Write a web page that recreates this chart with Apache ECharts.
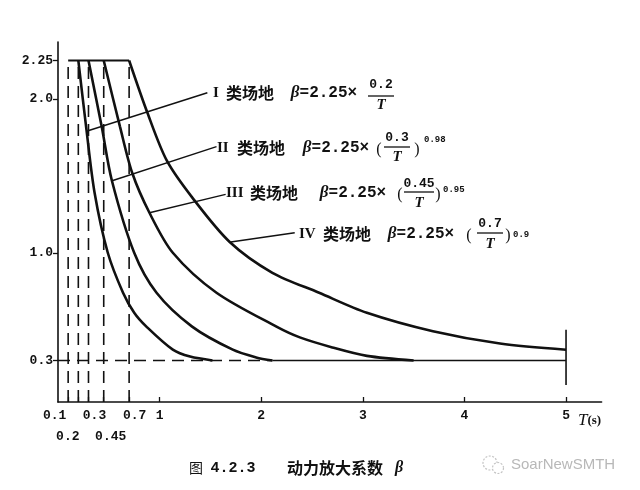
<!DOCTYPE html>
<html><head><meta charset="utf-8">
<script src="https://cdn.jsdelivr.net/npm/echarts@6/dist/echarts.min.js"></script>
<style>html,body{margin:0;padding:0;background:#fff}#c{width:640px;height:490px}</style>
</head><body><div id="c"></div>
<script>
// ---- data ----
const xTickValues = [0.1, 0.2, 0.3, 0.45, 0.7, 1, 2, 3, 4, 5];
const xTickLabels = ['0.1', '0.2', '0.3', '0.45', '0.7', '1', '2', '3', '4', '5'];
const yTickValues = [0.3, 1.0, 2.0, 2.25];
const yTickLabels = ['0.3', '1.0', '2.0', '2.25'];
const dashedT = [0.1, 0.2, 0.3, 0.45, 0.7];
const betaMax = 2.25;
const betaMin = 0.3;
const plateau = [[0.1, 2.25], [0.7, 2.25]];
const curveI = [[0.2, 2.25], [0.28, 1.80], [0.36, 1.39], [0.49, 1.00], [0.64, 0.74], [0.75, 0.61], [0.87, 0.52], [1.13, 0.37], [1.30, 0.325], [1.52, 0.30]];
const curveII = [[0.3, 2.25], [0.43, 1.82], [0.53, 1.47], [0.75, 1.00], [0.97, 0.74], [1.32, 0.52], [1.72, 0.37], [1.95, 0.32], [2.11, 0.30]];
const curveIII = [[0.45, 2.25], [0.61, 1.82], [0.73, 1.52], [0.90, 1.26], [1.13, 1.00], [1.56, 0.74], [2.15, 0.52], [2.38, 0.45], [2.70, 0.385], [3.04, 0.33], [3.50, 0.30]];
const curveIV = [[0.7, 2.25], [0.88, 1.91], [1.07, 1.60], [1.32, 1.36], [1.69, 1.07], [2.11, 0.87], [2.57, 0.74], [3.04, 0.61], [3.69, 0.49], [4.35, 0.41], [5.0, 0.37]];
const floorDashed = [[0, 0.3], [2.11, 0.3]];
const floorSolid = [[2.11, 0.3], [5, 0.3]];
const endLine = [[5, 0.14], [5, 0.50]];
const leaderI = [[0.28, 1.79], [1.47, 2.04]];
const leaderII = [[0.54, 1.47], [1.56, 1.69]];
const leaderIII = [[0.90, 1.26], [1.65, 1.38]];
const leaderIV = [[1.70, 1.07], [2.33, 1.13]];
const siteNames = ['I', 'II', 'III', 'IV'];
const siteNum = ['0.2', '0.3', '0.45', '0.7'];
const siteExp = [null, '0.98', '0.95', '0.9'];
const caption = ['图', '4.2.3', '动力放大系数', 'β'];

// ---- styling ----
const SERIF = 'Liberation Serif', MONO = 'Liberation Mono', CJK = 'Noto Sans CJK SC';
const INK = '#111';
const chart = echarts.init(document.getElementById('c'), null, {renderer: 'canvas'});

// label order: put "1" first so the crowded small-T labels are not treated as min-label overlaps
const xLabelValues = [1].concat(xTickValues.filter(v => v !== 1));
const labelKey = {'0.1': 'a', '0.2': 'b', '0.3': 'c', '0.45': 'd', '0.7': 'e'};
const row2 = {'0.2': true, '0.45': true};
function xFmt(v) {
  const i = xTickValues.findIndex(t => Math.abs(t - v) < 1e-9);
  const s = i >= 0 ? xTickLabels[i] : '';
  const k = labelKey[s] || 'n';
  return (row2[s] ? '\n' : '') + '{' + k + '|' + s + '}';
}
function yFmt(v) {
  const i = yTickValues.findIndex(t => Math.abs(t - v) < 1e-9);
  return i >= 0 ? yTickLabels[i] : '';
}
const tokenBase = {fontFamily: MONO, fontWeight: 'bold', fontSize: 13, color: INK, lineHeight: 21};

function lineSeries(data, opts) {
  return Object.assign({
    type: 'line', data: data, symbol: 'none', silent: true, animation: false,
    lineStyle: {color: INK, width: 1.5}
  }, opts || {});
}
const curveStyle = {color: INK, width: 2.6};
const series = [];
[curveI, curveII, curveIII, curveIV].forEach(c => series.push(lineSeries(c, {smooth: 0.3, lineStyle: curveStyle})));
series.push(lineSeries(plateau, {lineStyle: {color: INK, width: 2}}));
dashedT.forEach(t => series.push(lineSeries([[t, 0.03], [t, betaMax]], {lineStyle: {color: INK, width: 1.6, type: [12, 7]}})));
series.push(lineSeries(floorDashed, {lineStyle: {color: INK, width: 1.5, type: [12, 7]}}));
series.push(lineSeries(floorSolid, {lineStyle: {color: INK, width: 1.6}}));
series.push(lineSeries(endLine, {lineStyle: {color: INK, width: 1.6}}));
[leaderI, leaderII, leaderIII, leaderIV].forEach(l => series.push(lineSeries(l, {lineStyle: {color: INK, width: 1.4}})));

// formula label layout (pixels)
const labLayout = [
  {rx: 213, y: 93, cx: 250, bx: 324, fx: 381, ny: 85, by: 96, bw: 26, ty: 105},
  {rx: 217, y: 148, cx: 261, bx: 336, op: 379, fx: 397, ny: 138, by: 147, bw: 26, ty: 157, cl: 417, ex: 424, ey: 140},
  {rx: 226, y: 193, cx: 274, bx: 353, op: 400, fx: 419, ny: 184, by: 192, bw: 30, ty: 203, cl: 438, ex: 443, ey: 190},
  {rx: 299, y: 234, cx: 347, bx: 421, op: 469, fx: 490, ny: 224, by: 233, bw: 26, ty: 244, cl: 508, ex: 513, ey: 235}
];
const graphics = [];
function txt(x, y, text, font, align, extra) {
  graphics.push({type: 'text', silent: true, style: Object.assign({
    x: x, y: y, text: text, font: font, fill: INK, textAlign: align || 'left', textVerticalAlign: 'middle'
  }, extra || {})});
}
labLayout.forEach((L, i) => {
  txt(L.rx, L.y, siteNames[i], 'bold 15px "' + SERIF + '"', 'left');
  txt(L.cx, L.y, '类场地', 'bold 16px "' + CJK + '"', 'center');
  graphics.push({type: 'text', silent: true, style: {
    x: L.bx, y: L.y, text: '{g|β}{n|=2.25×}', textAlign: 'center', textVerticalAlign: 'middle', fill: INK,
    rich: {g: {font: 'italic bold 17px "' + SERIF + '"', fill: INK}, n: {font: 'bold 16px "' + MONO + '"', fill: INK}}
  }});
  if (L.op) txt(L.op, L.y + 2, '(', '16px "' + SERIF + '"', 'center');
  txt(L.fx, L.ny, siteNum[i], 'bold 13px "' + MONO + '"', 'center');
  graphics.push({type: 'line', silent: true, shape: {x1: L.fx - L.bw / 2, y1: L.by, x2: L.fx + L.bw / 2, y2: L.by}, style: {stroke: INK, lineWidth: 1.3}});
  txt(L.fx, L.ty, 'T', 'italic bold 15px "' + SERIF + '"', 'center');
  if (L.cl) txt(L.cl, L.y + 2, ')', '16px "' + SERIF + '"', 'center');
  if (siteExp[i]) txt(L.ex, L.ey, siteExp[i], 'bold 9px "' + MONO + '"', 'left');
});
// axis name T(s)
graphics.push({type: 'text', silent: true, style: {
  x: 578, y: 421, text: '{t|T}{s|(s)}', textAlign: 'left', textVerticalAlign: 'middle', fill: INK,
  rich: {t: {font: 'italic 17px "' + SERIF + '"', fill: INK}, s: {font: 'bold 13px "' + SERIF + '"', fill: INK}}
}});
// caption
txt(196, 468, caption[0], '14px "' + CJK + '"', 'center');
txt(233, 468, caption[1], 'bold 15px "' + MONO + '"', 'center');
txt(335, 468, caption[2], 'bold 16px "' + CJK + '"', 'center');
txt(399, 468, caption[3], 'italic bold 16px "' + SERIF + '"', 'center');
// watermark
graphics.push({type: 'circle', silent: true, shape: {cx: 490, cy: 463, r: 7}, style: {fill: 'none', stroke: '#c4c4c4', lineWidth: 1.2, lineDash: [2, 1.5]}});
graphics.push({type: 'circle', silent: true, shape: {cx: 498, cy: 468, r: 5.5}, style: {fill: '#fff', stroke: '#c4c4c4', lineWidth: 1.2, lineDash: [2, 1.5]}});
txt(511, 465, 'SoarNewSMTH', '15px "Liberation Sans"', 'left', {fill: '#b8b8b8'});

chart.setOption({
  backgroundColor: '#fff',
  animation: false,
  grid: {left: 58, top: 42, width: 543.6, height: 360, containLabel: false, outerBoundsMode: 'none'},
  xAxis: {
    type: 'value', min: 0, max: 5.35,
    axisLine: {show: true, lineStyle: {color: INK, width: 1.6}},
    splitLine: {show: false},
    axisTick: {show: true, inside: true, length: 5, customValues: xTickValues, lineStyle: {color: INK, width: 1.3}},
    axisLabel: {
      show: true, margin: 3, customValues: xLabelValues, formatter: xFmt, lineHeight: 21,
      hideOverlap: false,
      fontFamily: MONO, fontWeight: 'bold', fontSize: 13, color: INK,
      rich: {
        a: Object.assign({}, tokenBase, {padding: [0, 27, 0, 0]}),
        b: Object.assign({}, tokenBase, {padding: [0, 21, 0, 0]}),
        c: Object.assign({}, tokenBase, {padding: [0, 0, 0, 12]}),
        d: Object.assign({}, tokenBase, {padding: [0, 0, 0, 14]}),
        e: Object.assign({}, tokenBase, {padding: [0, 0, 0, 11]}),
        n: Object.assign({}, tokenBase)
      }
    }
  },
  yAxis: {
    type: 'value', min: 0.03, max: 2.37,
    axisLine: {show: true, lineStyle: {color: INK, width: 1.6}},
    splitLine: {show: false},
    axisTick: {show: true, inside: false, length: 5, customValues: yTickValues, lineStyle: {color: INK, width: 1.3}},
    axisLabel: {show: true, margin: 5, customValues: yTickValues, formatter: yFmt,
      showMinLabel: true, showMaxLabel: true,
      fontFamily: MONO, fontWeight: 'bold', fontSize: 13, color: INK}
  },
  series: series,
  graphic: graphics
});
</script></body></html>
